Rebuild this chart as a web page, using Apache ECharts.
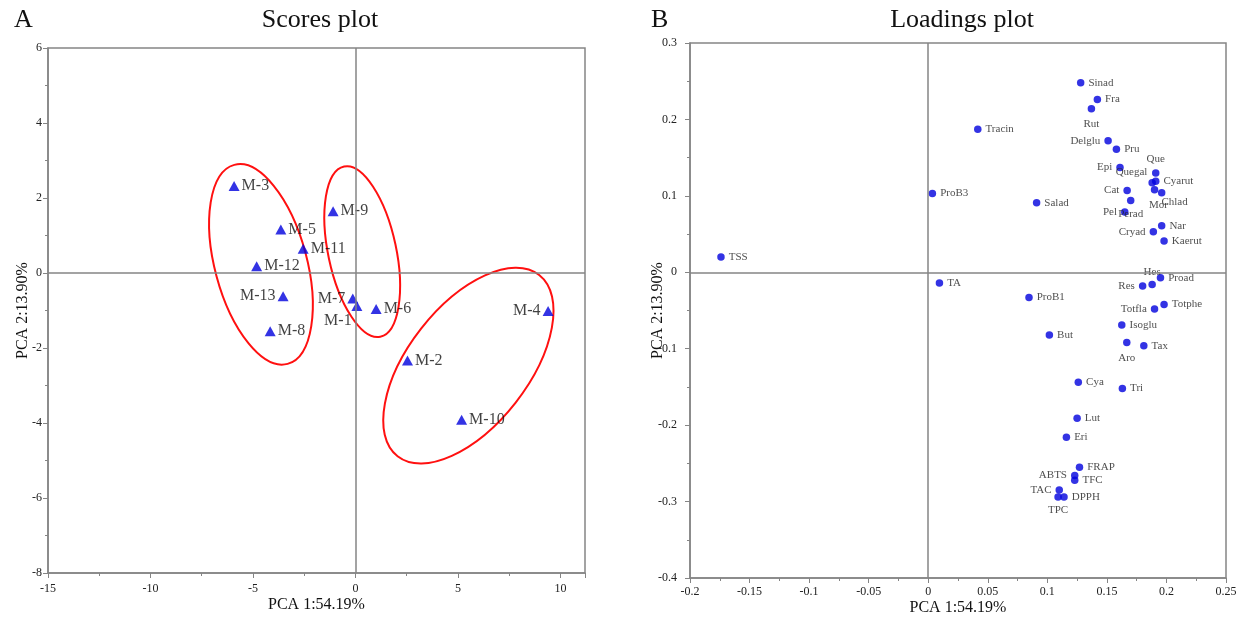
<!DOCTYPE html>
<html>
<head>
<meta charset="utf-8">
<title>PCA scores and loadings</title>
<script src="https://cdn.jsdelivr.net/npm/echarts@6/dist/echarts.min.js"></script>
<style>
  html, body { margin: 0; padding: 0; background: #fff; }
  #chart { width: 1240px; height: 621px; }
</style>
</head>
<body>
<div id="chart"></div>
<script>
// scores (panel A)
const scoreNames = ['M-1', 'M-2', 'M-3', 'M-4', 'M-5', 'M-6', 'M-7', 'M-8', 'M-9', 'M-10', 'M-11', 'M-12', 'M-13']
const scoreX = [0.07, 2.54, -5.92, 9.4, -3.64, 1.01, -0.13, -4.16, -1.09, 5.18, -2.55, -4.82, -3.53]
const scoreY = [-0.88, -2.33, 2.32, -1.01, 1.16, -0.96, -0.68, -1.55, 1.65, -3.91, 0.65, 0.18, -0.62]

// group ellipse centres (data units)
const groupCenterX = [-4.61, 0.33, 5.51]
const groupCenterY = [0.23, 0.57, -2.47]

// loadings (panel B)
const loadingNames = ['TSS', 'ProB3', 'Tracin', 'TA', 'Salad', 'Sinad', 'Fra', 'Rut', 'Delglu', 'Pru',
  'Epi', 'Que', 'Quegal', 'Cyarut', 'Mor', 'Chlad', 'Cat', 'Perad', 'Pel', 'Nar',
  'Cryad', 'Kaerut', 'Hes', 'Proad', 'Res', 'ProB1', 'Totphe', 'Totfla', 'Isoglu', 'But',
  'Aro', 'Tax', 'Cya', 'Tri', 'Lut', 'Eri', 'FRAP', 'ABTS', 'TFC', 'TAC', 'TPC', 'DPPH']
const loadingX = [-0.174, 0.0035, 0.0416, 0.0094, 0.091, 0.128, 0.142, 0.137, 0.151, 0.158,
  0.161, 0.191, 0.188, 0.191, 0.190, 0.196, 0.167, 0.170, 0.165, 0.196,
  0.189, 0.198, 0.188, 0.195, 0.180, 0.0846, 0.198, 0.190, 0.1625, 0.1017,
  0.1667, 0.181, 0.126, 0.163, 0.125, 0.116, 0.127, 0.123, 0.123, 0.110, 0.109, 0.114]
const loadingY = [0.020, 0.103, 0.187, -0.014, 0.091, 0.248, 0.226, 0.214, 0.172, 0.161,
  0.137, 0.130, 0.117, 0.119, 0.108, 0.104, 0.107, 0.094, 0.079, 0.061,
  0.053, 0.041, -0.016, -0.007, -0.018, -0.033, -0.042, -0.048, -0.069, -0.082,
  -0.092, -0.096, -0.144, -0.152, -0.191, -0.216, -0.255, -0.266, -0.272, -0.285, -0.294, -0.294]

const FONT = 'Liberation Serif, Times New Roman, serif'
const AXIS_COLOR = '#858585'
const BLUE = '#0000dd'

// label placement (style only)
const scoreLabelPos = {
  'M-13': { position: 'left' },
  'M-7': { position: 'left' },
  'M-4': { position: 'left' },
  'M-1': { position: 'bottom', offset: [-19, 0] }
}
const loadingLabelPos = {
  Rut: { position: 'bottom', distance: 6 },
  Delglu: { position: 'left' },
  Epi: { position: 'left' },
  Quegal: { position: 'left', distance: 1, offset: [0, -11] },
  Que: { position: 'top', distance: 5 },
  Mor: { position: 'bottom', distance: 6, offset: [4, 0] },
  Chlad: { position: 'right', offset: [-8, 9] },
  Cat: { position: 'left' },
  Perad: { position: 'bottom', distance: 4 },
  Pel: { position: 'left' },
  Cryad: { position: 'left' },
  Hes: { position: 'top', distance: 3 },
  Res: { position: 'left' },
  Totfla: { position: 'left' },
  Aro: { position: 'bottom', distance: 6 },
  ABTS: { position: 'left' },
  TAC: { position: 'left' },
  TPC: { position: 'bottom', distance: 4 }
}
// ellipse outline size in px and tilt in degrees (ccw)
const ellipseShape = [
  { rx: 103, ry: 46, angle: -75 },
  { rx: 87, ry: 34, angle: -78 },
  { rx: 115, ry: 60, angle: 52 }
]

const scoreData = scoreNames.map((n, i) => ({
  name: n,
  value: [scoreX[i], scoreY[i]],
  label: scoreLabelPos[n] || {}
}))
const loadingData = loadingNames.map((n, i) => ({
  name: n,
  value: [loadingX[i], loadingY[i]],
  label: loadingLabelPos[n] || {}
}))
const ellipseData = groupCenterX.map((x, i) => [x, groupCenterY[i], i])

function axisBase () {
  return {
    type: 'value',
    axisLine: { show: true, onZero: false, lineStyle: { color: AXIS_COLOR, width: 1.5 } },
    axisTick: { show: true, length: 5, lineStyle: { color: AXIS_COLOR } },
    minorTick: { show: true, splitNumber: 2, length: 3, lineStyle: { color: AXIS_COLOR } },
    splitLine: { show: false },
    nameLocation: 'middle',
    nameMoveOverlap: false,
    nameTextStyle: { fontFamily: FONT, fontSize: 16, color: '#111' }
  }
}

function tickLabels (margin, extra) {
  return Object.assign({ fontFamily: FONT, fontSize: 12, color: '#222', margin }, extra)
}

const zeroLines = {
  silent: true,
  symbol: 'none',
  label: { show: false },
  lineStyle: { color: AXIS_COLOR, width: 1.5, type: 'solid' },
  data: [{ xAxis: 0 }, { yAxis: 0 }]
}

const titleStyle = { fontFamily: FONT, fontSize: 26, fontWeight: 'normal', color: '#111' }

const chart = echarts.init(document.getElementById('chart'))
chart.setOption({
  animation: false,
  backgroundColor: '#fff',
  title: [
    { text: 'Scores plot', left: 315, top: 2, textAlign: 'center', textStyle: titleStyle },
    { text: 'Loadings plot', left: 957, top: 2, textAlign: 'center', textStyle: titleStyle },
    { text: 'A', left: 9, top: 2, textStyle: titleStyle },
    { text: 'B', left: 646, top: 2, textStyle: titleStyle }
  ],
  grid: [
    { left: 48, top: 48, width: 537, height: 525, show: true, borderColor: AXIS_COLOR, borderWidth: 1.5 },
    { left: 690, top: 43, width: 536, height: 535, show: true, borderColor: AXIS_COLOR, borderWidth: 1.5 }
  ],
  xAxis: [
    Object.assign(axisBase(), {
      gridIndex: 0, min: -15, max: 11.2, interval: 5, name: 'PCA 1:54.19%', nameGap: 24,
      axisLabel: tickLabels(10, { showMaxLabel: false })
    }),
    Object.assign(axisBase(), {
      gridIndex: 1, min: -0.2, max: 0.25, interval: 0.05, name: 'PCA 1:54.19%', nameGap: 22,
      axisLabel: tickLabels(8)
    })
  ],
  yAxis: [
    Object.assign(axisBase(), {
      gridIndex: 0, min: -8, max: 6, interval: 2, name: 'PCA 2:13.90%', nameGap: 17,
      axisLabel: tickLabels(6)
    }),
    Object.assign(axisBase(), {
      gridIndex: 1, min: -0.4, max: 0.3, interval: 0.1, name: 'PCA 2:13.90%', nameGap: 24,
      axisLabel: tickLabels(13)
    })
  ],
  series: [
    {
      type: 'scatter',
      xAxisIndex: 0,
      yAxisIndex: 0,
      symbol: 'triangle',
      symbolSize: [11, 10],
      itemStyle: { color: BLUE },
      label: {
        show: true,
        position: 'right',
        distance: 2,
        formatter: '{b}',
        fontFamily: FONT,
        fontSize: 16,
        color: '#111'
      },
      data: scoreData,
      markLine: zeroLines,
      z: 3
    },
    {
      type: 'custom',
      xAxisIndex: 0,
      yAxisIndex: 0,
      silent: true,
      renderItem (params, api) {
        const c = api.coord([api.value(0), api.value(1)])
        const s = ellipseShape[api.value(2)]
        return {
          type: 'ellipse',
          x: c[0],
          y: c[1],
          rotation: s.angle * Math.PI / 180,
          shape: { cx: 0, cy: 0, rx: s.rx, ry: s.ry },
          style: { fill: 'none', stroke: '#ff1010', lineWidth: 2 }
        }
      },
      data: ellipseData,
      z: 2
    },
    {
      type: 'scatter',
      xAxisIndex: 1,
      yAxisIndex: 1,
      symbol: 'circle',
      symbolSize: 7.5,
      itemStyle: { color: BLUE },
      label: {
        show: true,
        position: 'right',
        distance: 4,
        formatter: '{b}',
        fontFamily: FONT,
        fontSize: 11,
        color: '#222'
      },
      data: loadingData,
      markLine: zeroLines,
      z: 3
    }
  ]
})
</script>
</body>
</html>
